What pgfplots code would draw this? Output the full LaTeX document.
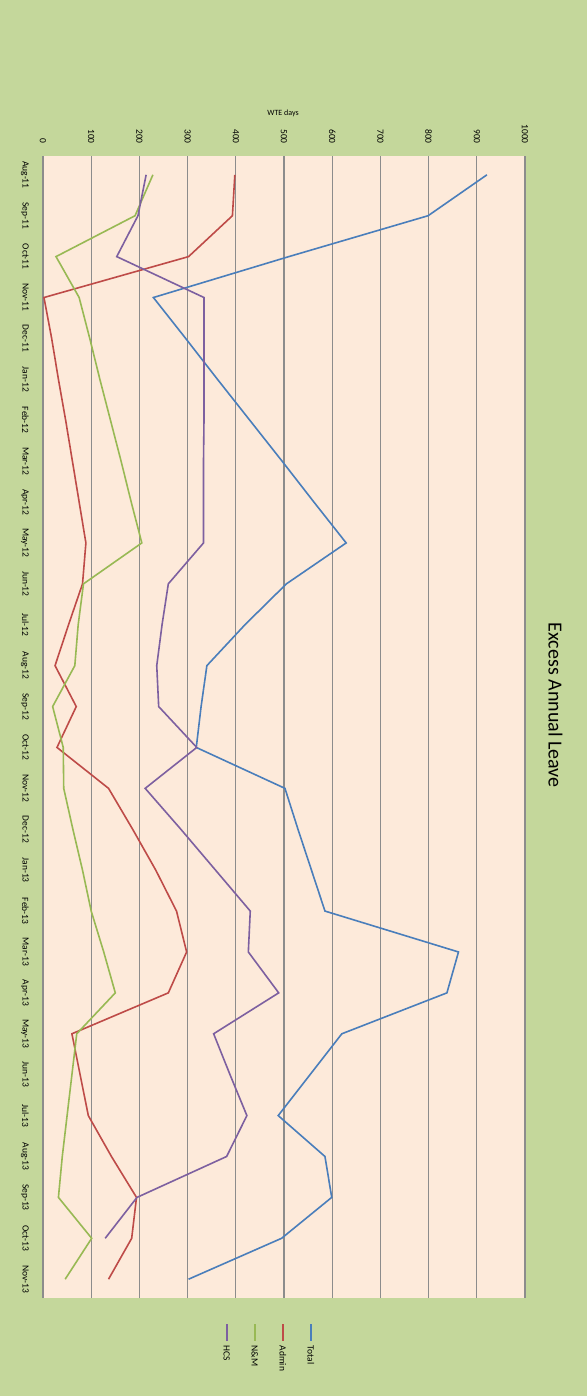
\documentclass[border=0pt]{standalone}
\usepackage{pgfplots}
\pgfplotsset{compat=1.18}
\usepackage{pgfplotstable}
\usepackage{fontspec}
\setmainfont{Carlito}
\definecolor{bggreen}{RGB}{196,215,155}
\definecolor{plotbg}{RGB}{253,234,218}
\definecolor{gridgray}{RGB}{140,140,140}
\definecolor{sblue}{RGB}{74,126,187}
\definecolor{sred}{RGB}{190,75,72}
\definecolor{sgreen}{RGB}{152,185,84}
\definecolor{spurple}{RGB}{125,96,160}

% pos 27 = Aug-11 ... pos 0 = Nov-13
\pgfplotstableread{
pos total admin nm
27 921 398 228
26 799 393 191
25 510 302 27
24 229 2 75
23 296 18 97
22 362 32 118
21 429 47 140
20 496 61 162
19 562 75 183
18 629 89 205
17 505 82 84
16 419 53 73
15 340 25 66
14 328 69 20
13 318 29 42
12 502 136 43
11 529 186 62
10 557 234 82
9 585 277 100
8 862 298 126
7 838 260 150
6 620 60 70
5 554 77 60
4 488 94 50
3 585 142 40
2 599 194 32
1 495 184 101
0 302 136 46
}\dataA

\pgfplotstableread{
pos hcs
27 214
26 197
25 153
24 334
23 334
22 334
21 334
20 333
19 333
18 333
17 260
16 247
15 236
14 240
13 319
12 212
11 286
10 358
9 430
8 426
7 489
6 354
5 388
4 423
3 381
2 195
1 129
}\dataB

\begin{document}
\begin{tikzpicture}
\fill[bggreen] (0pt,0pt) rectangle (587pt,-1396pt);
\begin{axis}[
  at={(43pt,-1298pt)}, anchor=south west,
  scale only axis, width=482pt, height=1142pt,
  xmin=0, xmax=1000, ymin=-0.46, ymax=27.46,
  axis background/.style={fill=plotbg},
  axis line style={draw=none},
  major tick length=0pt,
  xtick={0,100,...,1000},
  xmajorgrids,
  grid style={color=gridgray, line width=1.2pt},
  /pgf/number format/1000 sep={},
  /pgf/number format/assume math mode=true,
  tick label style={font=\fontsize{9.5}{11}\selectfont, text=black},
  xticklabel pos=upper,
  xticklabel style={rotate=-90, anchor=east, inner sep=0pt},
  xticklabel shift=12pt,
  ytick={0,...,27},
  yticklabels={Nov-13,Oct-13,Sep-13,Aug-13,Jul-13,Jun-13,May-13,Apr-13,Mar-13,Feb-13,Jan-13,Dec-12,Nov-12,Oct-12,Sep-12,Aug-12,Jul-12,Jun-12,May-12,Apr-12,Mar-12,Feb-12,Jan-12,Dec-11,Nov-11,Oct-11,Sep-11,Aug-11},
  yticklabel style={rotate=-90, anchor=north, inner sep=0pt},
  yticklabel shift=14pt,
  xlabel={WTE days},
  every axis x label/.style={at={(axis description cs:0.498,1.0377)}, anchor=center, font=\fontsize{8}{9}\selectfont},
  title={Excess Annual Leave},
  every axis title/.style={at={(axis description cs:1.0635,0.519)}, anchor=center, rotate=-90, font=\fontsize{20}{24}\selectfont},
  reverse legend,
  legend columns=4,
  legend image code/.code={\draw[#1] (0pt,5pt) -- (0pt,22pt);},
  legend style={at={(axis description cs:0.472,-0.0219)}, anchor=north,
    draw=none, fill=none, inner sep=0pt, outer sep=0pt,
    font=\fontsize{9.5}{11}\selectfont,
    nodes={rotate=-90, anchor=west, inner sep=0pt, text height=7pt, text depth=0pt},
    column sep=-4.3pt,
    /tikz/every even column/.append style={column sep=23.7pt}},
]
\addplot[sblue, line width=1.6pt] table[x=total, y=pos]{\dataA};
\addlegendentry{Total}
\addplot[sred, line width=1.6pt] table[x=admin, y=pos]{\dataA};
\addlegendentry{Admin}
\addplot[sgreen, line width=1.6pt] table[x=nm, y=pos]{\dataA};
\addlegendentry{N\&M}
\addplot[spurple, line width=1.6pt] table[x=hcs, y=pos]{\dataB};
\addlegendentry{HCS}
\end{axis}
\end{tikzpicture}
\end{document}
